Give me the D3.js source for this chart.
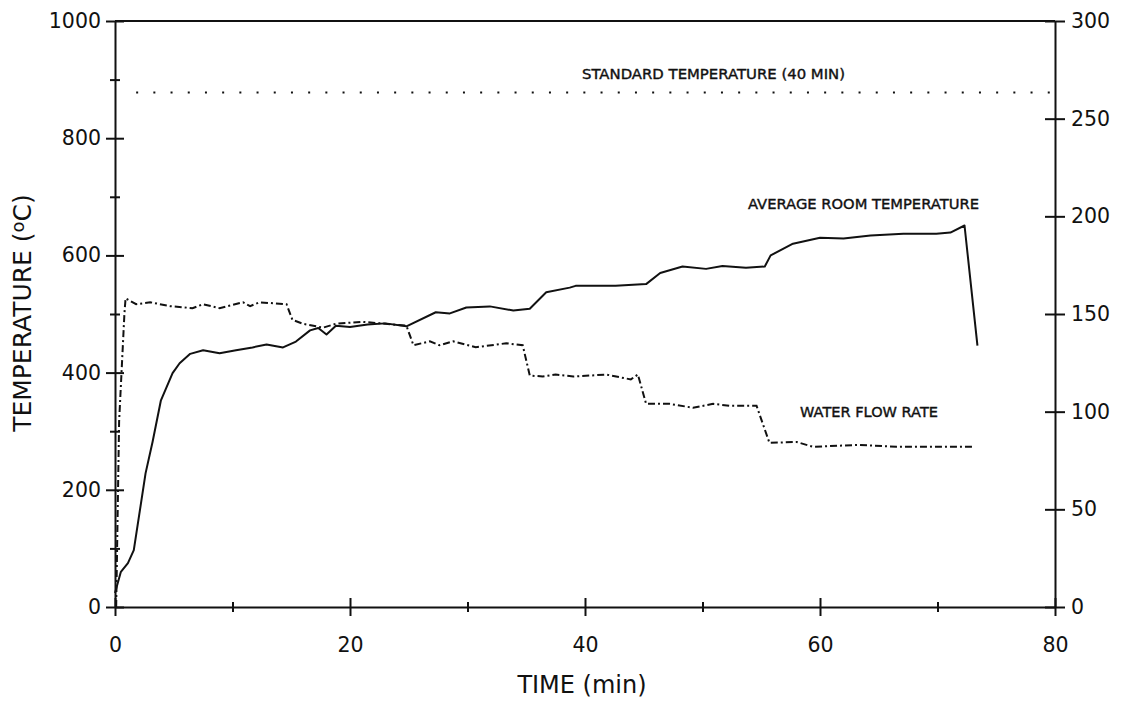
<!DOCTYPE html>
<html>
<head>
<meta charset="utf-8">
<script src="https://cdn.jsdelivr.net/npm/d3@7"></script>
<style>
  body { margin: 0; background: #fff; }
  svg text { font-family: "DejaVu Sans", sans-serif; fill: #111; }
</style>
</head>
<body>
<div class="box"></div>
<script>
// average room temperature (°C) vs time (min)
const tempTime = [0, 0.5, 1.1, 1.6, 2.6, 3.2, 3.9, 4.9, 5.5, 6.4, 7.5, 8.9, 10.3, 11.7, 12.9, 14.3, 15.4, 16.6, 17.3, 18.0, 18.8, 20, 21.5, 23, 24.8,
                  27.3, 28.5, 29.9, 31.9, 33.9, 35.3, 36.7, 38.7, 39.2, 42.6, 45.2, 46.4, 48.3, 50.3, 51.7, 53.7, 55.3, 55.8, 57.7, 60, 62,
                  64.3, 67.1, 69.9, 71.1, 72.3, 73.4];
const tempValues = [24, 60, 75, 97, 228, 282, 352, 399, 416, 432, 438, 433, 438, 443, 448, 443, 453, 472, 476, 465, 480, 478, 482, 484, 479,
                    503, 501, 511, 513, 506, 509, 537, 545, 548, 548, 551, 570, 581, 577, 582, 579, 581, 600, 620, 630, 629,
                    634, 637, 637, 639, 651, 446];

// water flow rate vs time (min), right axis
const flowTime = [0.1, 0.35, 0.8, 0.9, 1.8, 3, 4.7, 6.6, 7.5, 8.9, 10.9, 11.5, 12.3, 14.6, 15.1, 16, 17.7, 18.8, 21, 23, 24.8,
                  25.4, 26.8, 27.6, 28.8, 30.7, 33.3, 34.7, 35.3, 36.4, 37.5, 39, 41.8, 43.9, 44.5, 45.2, 47.2, 49.2, 50.9,
                  52.3, 54.6, 55.7, 58, 59.4, 63.4, 66.5, 73];
const flowValues = [0, 95, 150, 158, 155, 156, 154, 153, 155, 153, 156, 154, 156, 155, 147, 145, 143, 145, 146, 145, 144,
                    134, 136, 134, 136, 133, 135, 134, 118.5, 118, 119, 118, 119, 116.5, 119, 104, 104, 102, 104,
                    103, 103, 84, 84.5, 82, 83, 82, 82];

// standard temperature (40 min)
const stdTime = [1.8, 80];
const stdValues = [878, 878];

const timeTicks = [0, 20, 40, 60, 80];
const timeMinor = [10, 30, 50, 70];
const tempTicks = [0, 200, 400, 600, 800, 1000];
const tempMinor = [100, 300, 500, 700, 900];
const flowTicks = [0, 50, 100, 150, 200, 250, 300];

const dims = {width: 1126, height: 701, left: 115, right: 1055, top: 21, bottom: 607};

const svg = d3.select('.box')
              .append('svg')
              .attr('width', dims.width)
              .attr('height', dims.height);

const x = d3.scaleLinear().domain([0, 80]).range([dims.left, dims.right]);
const yT = d3.scaleLinear().domain([0, 1000]).range([dims.bottom, dims.top]);
const yF = d3.scaleLinear().domain([0, 300]).range([dims.bottom, dims.top]);

const fmt = d3.format('d');

// cadre du haut
svg.append('line')
   .attr('x1', dims.left).attr('x2', dims.right)
   .attr('y1', dims.top).attr('y2', dims.top)
   .attr('stroke', '#111').attr('stroke-width', 2);

// axes
const styleAxis = (g, size, dir) => {
    g.select('.domain').attr('stroke', '#111').attr('stroke-width', 2);
    g.selectAll('.tick line').attr('stroke', '#111').attr('stroke-width', 2)
     .attr(dir + '1', -size).attr(dir + '2', size);
    g.selectAll('.tick text').attr('font-size', 20.5);
};

svg.append('g')
   .attr('transform', `translate(0, ${dims.bottom})`)
   .call(d3.axisBottom(x).tickValues(timeTicks).tickFormat(fmt).tickSizeOuter(0).tickPadding(24))
   .call(g => styleAxis(g, 9, 'y'));

svg.append('g')
   .attr('transform', `translate(0, ${dims.bottom})`)
   .call(d3.axisBottom(x).tickValues(timeMinor).tickFormat('').tickSizeOuter(0))
   .call(g => { g.select('.domain').remove(); styleAxis(g, 5, 'y'); });

svg.append('g')
   .attr('transform', `translate(${dims.left}, 0)`)
   .call(d3.axisLeft(yT).tickValues(tempTicks).tickFormat(fmt).tickSizeOuter(0).tickPadding(8))
   .call(g => styleAxis(g, 9, 'x'));

svg.append('g')
   .attr('transform', `translate(${dims.left}, 0)`)
   .call(d3.axisLeft(yT).tickValues(tempMinor).tickFormat('').tickSizeOuter(0))
   .call(g => { g.select('.domain').remove(); styleAxis(g, 5, 'x'); });

svg.append('g')
   .attr('transform', `translate(${dims.right}, 0)`)
   .call(d3.axisRight(yF).tickValues(flowTicks).tickFormat(fmt).tickSizeOuter(0).tickPadding(10))
   .call(g => styleAxis(g, 10, 'x'));

// titres des axes
svg.append('text')
   .attr('x', 582).attr('y', 693)
   .attr('text-anchor', 'middle')
   .attr('font-size', 24)
   .text('TIME (min)');

const yTitle = svg.append('text')
   .attr('transform', 'translate(31, 313) rotate(-90)')
   .attr('text-anchor', 'middle')
   .attr('font-size', 25);
yTitle.append('tspan').text('TEMPERATURE (');
yTitle.append('tspan').attr('baseline-shift', '40%').attr('font-size', 18).text('o');
yTitle.append('tspan').text('C)');

// courbes
const lineOf = (ys) => d3.line().x(d => x(d[0])).y(d => ys(d[1]));

svg.append('path')
   .datum(d3.zip(stdTime, stdValues))
   .attr('d', lineOf(yT))
   .attr('fill', 'none').attr('stroke', '#111').attr('stroke-width', 2)
   .attr('stroke-dasharray', '2,15.2');

svg.append('path')
   .datum(d3.zip(tempTime, tempValues))
   .attr('d', lineOf(yT))
   .attr('fill', 'none').attr('stroke', '#111').attr('stroke-width', 2)
   .attr('stroke-linejoin', 'round');

svg.append('path')
   .datum(d3.zip(flowTime, flowValues))
   .attr('d', lineOf(yF))
   .attr('fill', 'none').attr('stroke', '#111').attr('stroke-width', 2)
   .attr('stroke-dasharray', '7,3,2,3');

// étiquettes
const labels = [
    {text: 'STANDARD TEMPERATURE (40 MIN)', x: 582, y: 79, w: 263},
    {text: 'AVERAGE ROOM TEMPERATURE', x: 748, y: 209, w: 231},
    {text: 'WATER FLOW RATE', x: 800, y: 417, w: 138}
];

svg.selectAll('.lab')
   .data(labels)
   .enter()
   .append('text')
   .attr('class', 'lab')
   .attr('x', d => d.x).attr('y', d => d.y)
   .attr('font-size', 14.5)
   .attr('textLength', d => d.w)
   .attr('lengthAdjust', 'spacingAndGlyphs')
   .attr('stroke', '#111').attr('stroke-width', 0.4)
   .text(d => d.text);
</script>
</body>
</html>
